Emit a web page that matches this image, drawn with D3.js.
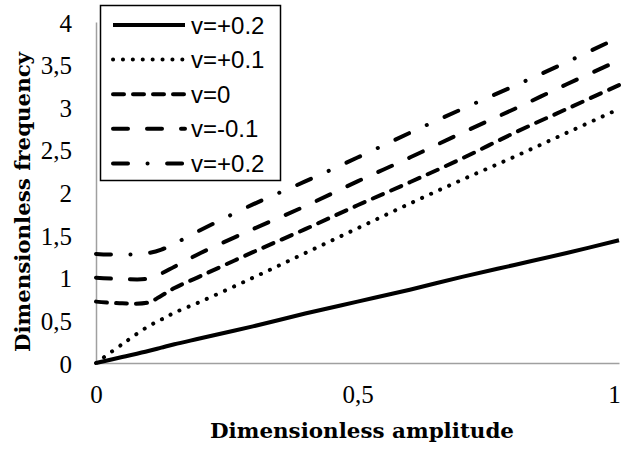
<!DOCTYPE html>
<meta charset="utf-8">
<style>
body { margin: 0; background: #fff; }
.tick text { font-family: "Liberation Serif", serif; font-size: 25px; fill: #000; }
.legend text { font-family: "Liberation Sans", Arial, sans-serif; font-size: 24px; }
.title { font-family: "DejaVu Serif", serif; font-weight: bold; font-size: 20px; }
</style>
<body>
<svg width="623" height="449"></svg>
<script src="https://cdn.jsdelivr.net/npm/d3@7"></script>
<script>
// amplitude values (x)
var amp = [0, 0.05, 0.1, 0.125, 0.15, 0.2, 0.3, 0.4, 0.5, 0.6, 0.7, 0.8, 0.9, 1.0];

// frequencies, one array per curve
var vP02  = [0, 0.07, 0.14, 0.18, 0.22, 0.29, 0.43, 0.58, 0.72, 0.86, 1.01, 1.15, 1.29, 1.44];
var vP01  = [0, 0.22, 0.43, 0.51, 0.59, 0.72, 1.00, 1.29, 1.58, 1.87, 2.15, 2.42, 2.70, 2.98];
var v0    = [0.72, 0.70, 0.71, 0.79, 0.88, 1.02, 1.30, 1.57, 1.85, 2.12, 2.40, 2.70, 2.98, 3.26];
var vM01  = [1.00, 0.985, 0.99, 1.05, 1.13, 1.29, 1.57, 1.84, 2.13, 2.41, 2.70, 2.98, 3.27, 3.55];
var vP02b = [1.28, 1.27, 1.29, 1.33, 1.40, 1.56, 1.86, 2.13, 2.41, 2.70, 2.98, 3.25, 3.53, 3.82];

var names = ["v=+0.2", "v=+0.1", "v=0", "v=-0.1", "v=+0.2"];
var dashes = ["none", "0.1 9.8", "11 9", "15 19", "15 19.5 0.1 19.5"];

var yTicks = [0, 0.5, 1, 1.5, 2, 2.5, 3, 3.5, 4];
var yTickLabels = ["0", "0,5", "1", "1,5", "2", "2,5", "3", "3,5", "4"];
var xTicks = [0, 0.5, 1];
var xTickLabels = ["0", "0,5", "1"];

var svg = d3.select("svg");

var x = d3.scaleLinear().domain([0, 1]).range([96, 619]);
var y = d3.scaleLinear().domain([0, 4]).range([363, 22]);

var series = [vP02, vP01, v0, vM01, vP02b].map(function(vals, i) {
  return { name: names[i], dash: dashes[i],
           pts: amp.map(function(a, j) { return [a, vals[j]]; }) };
});

// axes
var gy = svg.append("g")
    .attr("transform", "translate(96,0)")
    .call(d3.axisLeft(y).tickValues(yTicks).tickSize(0).tickPadding(24)
      .tickFormat(function(d, i) { return yTickLabels[i]; }));
gy.selectAll(".tick text").attr("dy", "0.36em");

var gx = svg.append("g")
    .attr("transform", "translate(0,363)")
    .call(d3.axisBottom(x).tickValues(xTicks).tickSize(0).tickPadding(22)
      .tickFormat(function(d, i) { return xTickLabels[i]; }));
// last label sits on the right edge
gx.selectAll(".tick text").filter(function(d) { return d == 1; }).attr("x", -5);

svg.selectAll(".domain").attr("stroke", "#a0a0a0").attr("stroke-width", 1.5);

// curves
var line = d3.line()
    .x(function(d) { return x(d[0]); })
    .y(function(d) { return y(d[1]); })
    .curve(d3.curveCatmullRom.alpha(0.5));

svg.selectAll(".curve")
  .data(series)
  .enter().append("path")
    .attr("class", "curve")
    .attr("d", function(d) { return line(d.pts); })
    .attr("fill", "none")
    .attr("stroke", "#000")
    .attr("stroke-width", 4)
    .attr("stroke-linecap", function(d) { return d.dash == "none" ? "butt" : "round"; })
    .attr("stroke-dasharray", function(d) { return d.dash; });

// legend
var lg = svg.append("g").attr("class", "legend");
lg.append("rect")
    .attr("x", 100.5).attr("y", 5.5)
    .attr("width", 180).attr("height", 175)
    .attr("fill", "#fff").attr("stroke", "#000").attr("stroke-width", 1.5);

var item = lg.selectAll(".item")
  .data(series)
  .enter().append("g")
    .attr("class", "item")
    .attr("transform", function(d, i) { return "translate(0," + (25 + i * 34.6) + ")"; });

item.append("line")
    .attr("x1", 113).attr("x2", 185)
    .attr("stroke", "#000").attr("stroke-width", 4)
    .attr("stroke-linecap", function(d) { return d.dash == "none" ? "butt" : "round"; })
    .attr("stroke-dasharray", function(d) { return d.dash; });

item.append("text")
    .attr("x", 191).attr("y", 8.5)
    .text(function(d) { return d.name; });

// axis titles
svg.append("text")
    .attr("class", "title")
    .attr("transform", "translate(30,202) rotate(-90)")
    .attr("text-anchor", "middle")
    .attr("textLength", 300).attr("lengthAdjust", "spacingAndGlyphs")
    .text("Dimensionless frequency");

svg.append("text")
    .attr("class", "title")
    .attr("x", 362).attr("y", 438)
    .attr("text-anchor", "middle")
    .attr("textLength", 304).attr("lengthAdjust", "spacingAndGlyphs")
    .text("Dimensionless  amplitude");
</script>
</body>
